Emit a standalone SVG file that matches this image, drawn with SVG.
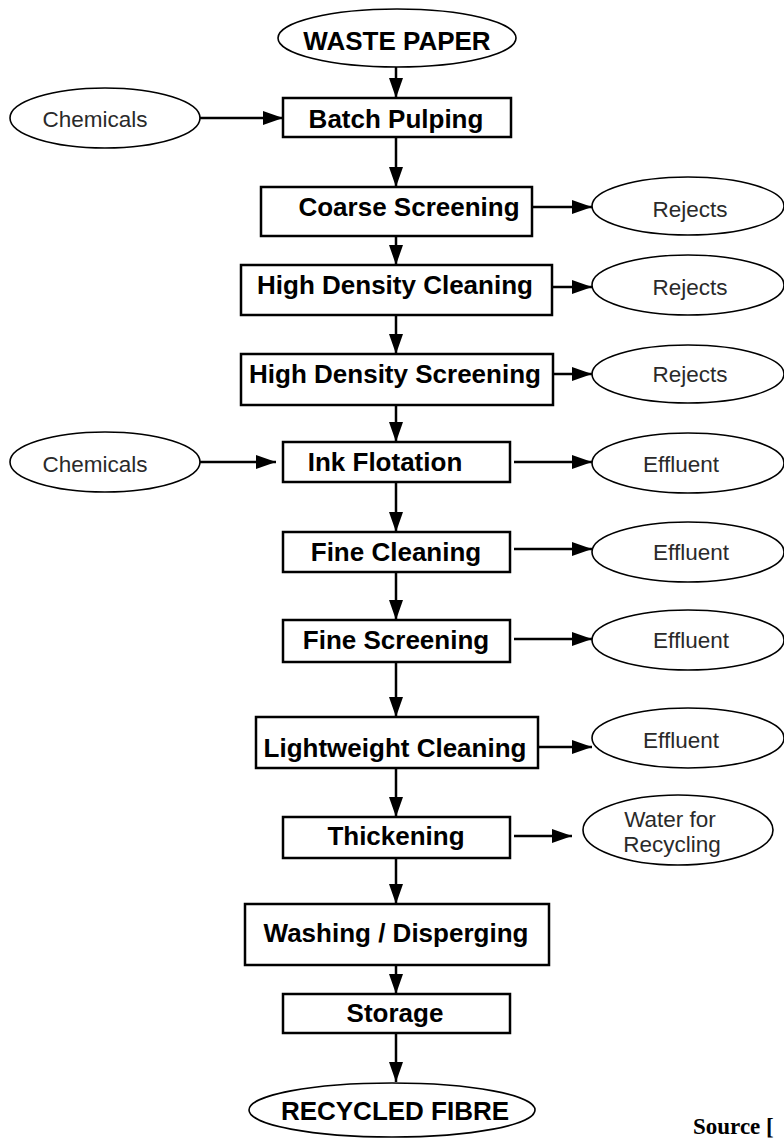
<svg xmlns="http://www.w3.org/2000/svg" width="784" height="1139" viewBox="0 0 784 1139">
<defs>
<marker id="ah" markerUnits="userSpaceOnUse" markerWidth="22" markerHeight="14" refX="20" refY="7" orient="auto">
<path d="M0,0 L20,7 L0,14 z" fill="#000"/>
</marker>
<style>
.box{fill:#fff;stroke:#000;stroke-width:2.5}
.ell{fill:#fff;stroke:#000;stroke-width:1.6}
.b{font-family:"Liberation Sans",Arial,sans-serif;font-weight:bold;font-size:26px;fill:#000;text-anchor:middle}
.r{font-family:"Liberation Sans",Arial,sans-serif;font-size:22.5px;fill:#2a2a2a;text-anchor:middle}
.c{stroke:#000;stroke-width:2.5;fill:none;marker-end:url(#ah)}
.src{font-family:"Liberation Serif","Times New Roman",serif;font-weight:bold;font-size:23px;fill:#000}
</style>
</defs>
<rect width="784" height="1139" fill="#fff"/>

<g id="connectors">
<line class="c" x1="396" y1="67" x2="396" y2="98"/>
<line class="c" x1="200" y1="118" x2="283" y2="118"/>
<line class="c" x1="396" y1="137" x2="396" y2="187"/>
<line class="c" x1="532" y1="207" x2="592" y2="207"/>
<line class="c" x1="396" y1="236" x2="396" y2="265"/>
<line class="c" x1="552" y1="287" x2="592" y2="287"/>
<line class="c" x1="396" y1="315" x2="396" y2="354"/>
<line class="c" x1="553" y1="374" x2="592" y2="374"/>
<line class="c" x1="396" y1="405" x2="396" y2="442"/>
<line class="c" x1="200" y1="462" x2="276" y2="462"/>
<line class="c" x1="514" y1="462" x2="592" y2="462"/>
<line class="c" x1="396" y1="482" x2="396" y2="532"/>
<line class="c" x1="514" y1="549" x2="592" y2="549"/>
<line class="c" x1="396" y1="572" x2="396" y2="620"/>
<line class="c" x1="514" y1="639" x2="592" y2="639"/>
<line class="c" x1="396" y1="662" x2="396" y2="717"/>
<line class="c" x1="538" y1="747" x2="592" y2="747"/>
<line class="c" x1="396" y1="768" x2="396" y2="817"/>
<line class="c" x1="514" y1="836" x2="572" y2="836"/>
<line class="c" x1="396" y1="858" x2="396" y2="904"/>
<line class="c" x1="396" y1="965" x2="396" y2="994"/>
<line class="c" x1="396" y1="1033" x2="396" y2="1082"/>
</g>

<g id="waste-paper"><ellipse class="ell" cx="397" cy="38" rx="119" ry="29"/><text class="b" x="397" y="50">WASTE PAPER</text></g>
<g id="chemicals-1"><ellipse class="ell" cx="105" cy="118" rx="95" ry="30"/><text class="r" x="95" y="127">Chemicals</text></g>
<g id="batch-pulping"><rect class="box" x="283" y="98" width="228" height="39"/><text class="b" x="396" y="128">Batch Pulping</text></g>
<g id="coarse-screening"><rect class="box" x="261" y="187" width="271" height="49"/><text class="b" x="409" y="216">Coarse Screening</text></g>
<g id="rejects-1"><ellipse class="ell" cx="688" cy="206" rx="96" ry="29"/><text class="r" x="690" y="217">Rejects</text></g>
<g id="high-density-cleaning"><rect class="box" x="241" y="265" width="311" height="50"/><text class="b" x="395" y="294">High Density Cleaning</text></g>
<g id="rejects-2"><ellipse class="ell" cx="688" cy="285" rx="96" ry="30"/><text class="r" x="690" y="295">Rejects</text></g>
<g id="high-density-screening"><rect class="box" x="241" y="354" width="312" height="51"/><text class="b" x="395" y="383">High Density Screening</text></g>
<g id="rejects-3"><ellipse class="ell" cx="688" cy="374" rx="96" ry="29"/><text class="r" x="690" y="382">Rejects</text></g>
<g id="chemicals-2"><ellipse class="ell" cx="105" cy="462" rx="95" ry="30"/><text class="r" x="95" y="472">Chemicals</text></g>
<g id="ink-flotation"><rect class="box" x="283" y="442" width="227" height="40"/><text class="b" x="385" y="471">Ink Flotation</text></g>
<g id="effluent-1"><ellipse class="ell" cx="688" cy="463" rx="96" ry="30"/><text class="r" x="681" y="472">Effluent</text></g>
<g id="fine-cleaning"><rect class="box" x="283" y="532" width="227" height="40"/><text class="b" x="396" y="561">Fine Cleaning</text></g>
<g id="effluent-2"><ellipse class="ell" cx="688" cy="552" rx="96" ry="30"/><text class="r" x="691" y="560">Effluent</text></g>
<g id="fine-screening"><rect class="box" x="283" y="620" width="227" height="42"/><text class="b" x="396" y="649">Fine Screening</text></g>
<g id="effluent-3"><ellipse class="ell" cx="688" cy="640" rx="96" ry="30"/><text class="r" x="691" y="648">Effluent</text></g>
<g id="lightweight-cleaning"><rect class="box" x="256" y="717" width="282" height="51"/><text class="b" x="395" y="757">Lightweight Cleaning</text></g>
<g id="effluent-4"><ellipse class="ell" cx="688" cy="738" rx="96" ry="30"/><text class="r" x="681" y="748">Effluent</text></g>
<g id="thickening"><rect class="box" x="283" y="817" width="227" height="41"/><text class="b" x="396" y="845">Thickening</text></g>
<g id="water-for-recycling"><ellipse class="ell" cx="678" cy="830" rx="95" ry="35"/><text class="r" x="670" y="827">Water for</text><text class="r" x="672" y="852">Recycling</text></g>
<g id="washing-disperging"><rect class="box" x="245" y="904" width="304" height="61"/><text class="b" x="396" y="942">Washing / Disperging</text></g>
<g id="storage"><rect class="box" x="283" y="994" width="227" height="39"/><text class="b" x="395" y="1022">Storage</text></g>
<g id="recycled-fibre"><ellipse class="ell" cx="392" cy="1110" rx="143" ry="27"/><text class="b" x="395" y="1120">RECYCLED FIBRE</text></g>
<text class="src" x="693" y="1134">Source [</text>
</svg>
